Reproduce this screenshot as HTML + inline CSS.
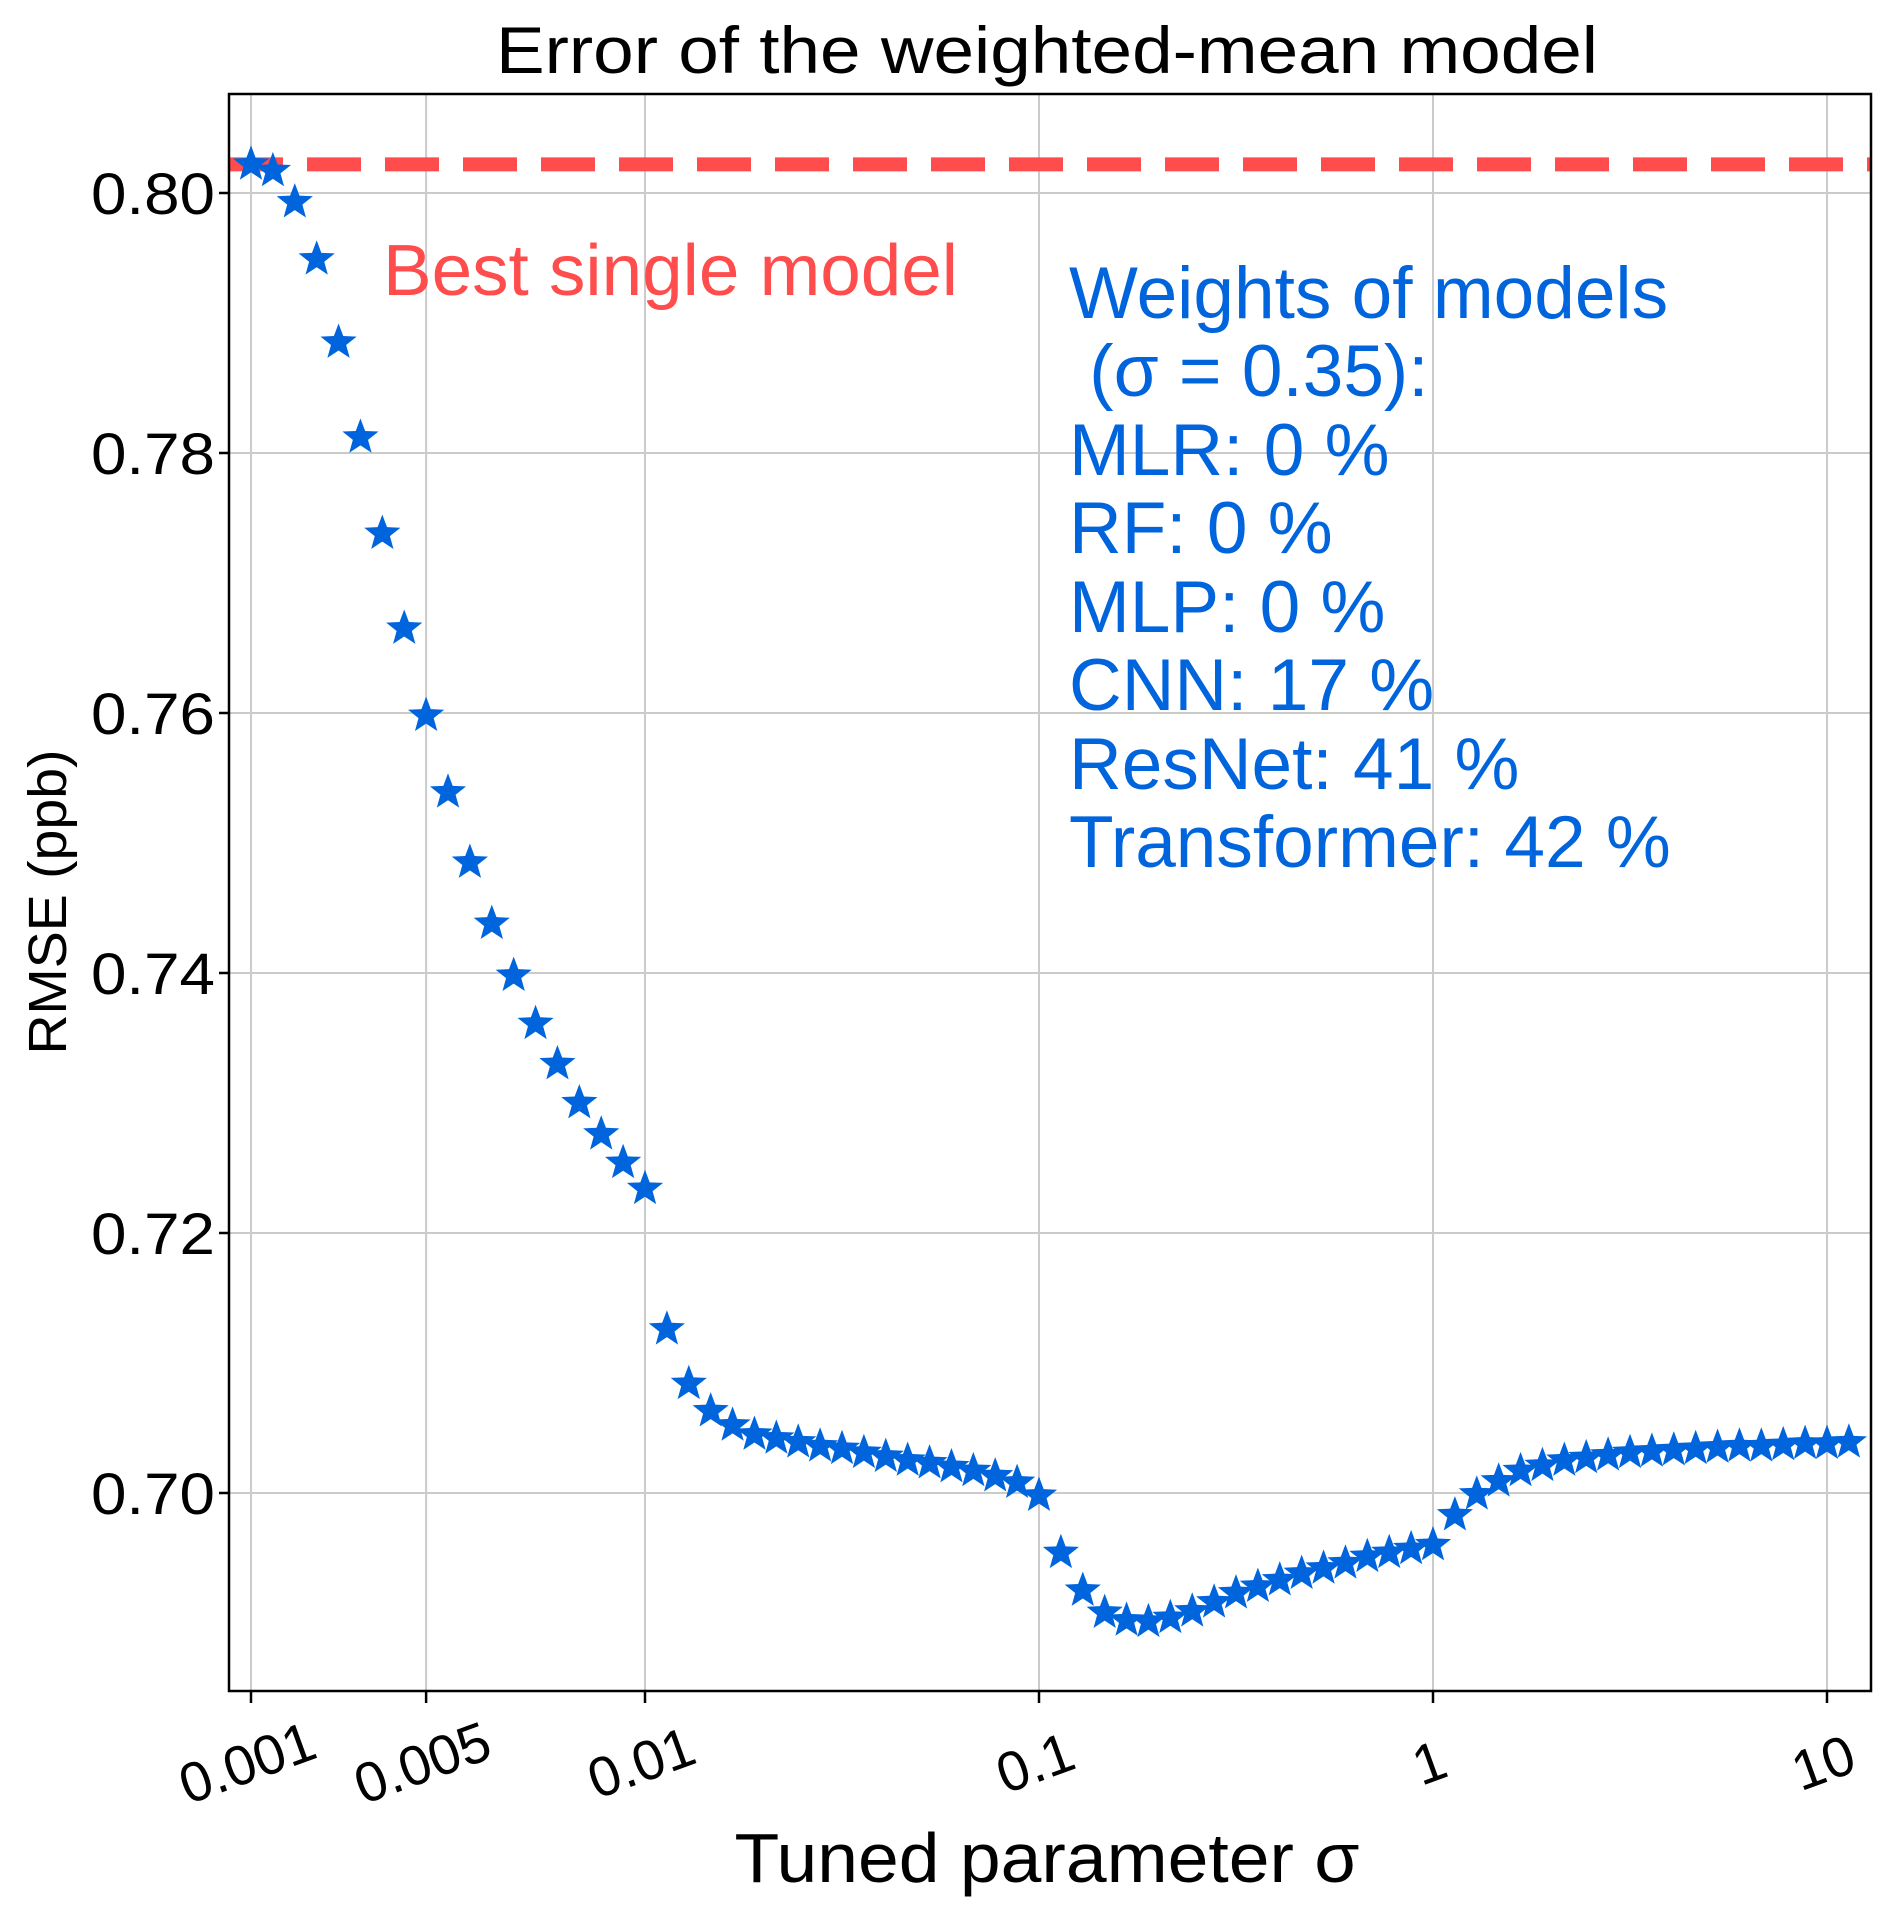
<!DOCTYPE html>
<html><head><meta charset="utf-8"><style>
html,body{margin:0;padding:0;background:#fff}
svg{display:block;font-family:"Liberation Sans","DejaVu Sans",sans-serif}
</style></head><body>
<svg id="chart" width="1892" height="1922" viewBox="0 0 1892 1922" xmlns="http://www.w3.org/2000/svg">
<rect x="0" y="0" width="1892" height="1922" fill="#fff"/>
<text x="1047" y="73" font-size="66" text-anchor="middle" textLength="1102" lengthAdjust="spacingAndGlyphs" fill="#000">Error of the weighted-mean model</text>
<g id="grid"></g>
<g id="bestline"></g>
<g id="marks"></g>
<g id="axes"></g>
<text x="383" y="295" font-size="72" textLength="575" lengthAdjust="spacingAndGlyphs" fill="#ff4c4c">Best single model</text>
<g font-size="73" fill="#0064dc">
<text x="1069" y="318">Weights of models</text>
<text x="1069" y="396" xml:space="preserve"> (σ = 0.35):</text>
<text x="1069" y="475">MLR: 0 %</text>
<text x="1069" y="553">RF: 0 %</text>
<text x="1069" y="632">MLP: 0 %</text>
<text x="1069" y="710">CNN: 17 %</text>
<text x="1069" y="789">ResNet: 41 %</text>
<text x="1069" y="867">Transformer: 42 %</text>
</g>
<text x="1047" y="1882" font-size="70" text-anchor="middle" textLength="625" lengthAdjust="spacingAndGlyphs" fill="#000">Tuned parameter σ</text>
<text x="0" y="0" font-size="54" text-anchor="middle" textLength="305" lengthAdjust="spacingAndGlyphs" fill="#000" transform="translate(66,902) rotate(-90)">RMSE (ppb)</text>
</svg>
<script>
const bestSingle = 0.8022;
const yTicks = [0.70, 0.72, 0.74, 0.76, 0.78, 0.80];
const yTickLabels = ["0.70", "0.72", "0.74", "0.76", "0.78", "0.80"];
const xTicks = [0.001, 0.005, 0.01, 0.1, 1, 10];
const xTickLabels = ["0.001", "0.005", "0.01", "0.1", "1", "10"];
const rmseSeg1 = [0.8022,0.8017,0.7993,0.7949,0.7885,0.7812,0.7738,0.7665,0.7598,0.7539,0.7485,0.7438,0.7398,0.7361,0.7330,0.7300,0.7276,0.7254,0.7234];
const rmseSeg2 = [0.7126,0.7084,0.7063,0.7052,0.7045,0.7042,0.7039,0.7036,0.7034,0.7031,0.7028,0.7025,0.7023,0.7020,0.7017,0.7013,0.7008,0.6998];
const rmseSeg3 = [0.6954,0.6925,0.6908,0.6902,0.6901,0.6904,0.6909,0.6916,0.6923,0.6928,0.6933,0.6938,0.6942,0.6946,0.6951,0.6954,0.6957,0.6960];
const rmseSeg4 = [0.6983,0.6999,0.7009,0.7017,0.7021,0.7025,0.7027,0.7029,0.7031,0.7032,0.7033,0.7034,0.7035,0.7036,0.7036,0.7037,0.7038,0.7038,0.7039];

const NS="http://www.w3.org/2000/svg";
const L=229,R=1871,T=94,B=1691;
const X0=251, DEC=394;
const Y80=193, PER=13000;
function sx(s){
  if(s<=0.01) return X0 + (s-0.001)/0.009*DEC;
  return X0 + DEC + Math.log10(s/0.01)*DEC;
}
function sy(v){ return Y80 + (0.80-v)*PER; }
function mk(tag,attrs,parent){const e=document.createElementNS(NS,tag);for(const k in attrs)e.setAttribute(k,attrs[k]);parent.appendChild(e);return e;}

const sig=[], vals=[];
rmseSeg1.forEach((v,i)=>{sig.push(0.001+0.0005*i);vals.push(v);});
rmseSeg2.forEach((v,i)=>{sig.push(0.01*Math.pow(10,(i+1)/18));vals.push(v);});
rmseSeg3.forEach((v,i)=>{sig.push(0.1*Math.pow(10,(i+1)/18));vals.push(v);});
rmseSeg4.forEach((v,i)=>{sig.push(1*Math.pow(10,(i+1)/18));vals.push(v);});

const grid=document.getElementById('grid');
xTicks.forEach((t,i)=>{
  const g=mk('line',{x1:sx(t),x2:sx(t),y1:T,y2:B,stroke:'#cbcbcb','stroke-width':2},grid);
  
  
});
yTicks.forEach((t,i)=>{
  const g=mk('line',{x1:L,x2:R,y1:sy(t),y2:sy(t),stroke:'#cbcbcb','stroke-width':2},grid);
  
  
});

const bl=mk('line',{x1:L,x2:R,y1:sy(bestSingle),y2:sy(bestSingle),stroke:'#ff4c4c','stroke-width':14,'stroke-dasharray':'54 24'},document.getElementById('bestline'));



function starPath(cx,cy,r){
  let d='';const ri=r*0.42;
  for(let k=0;k<10;k++){
    const a=-Math.PI/2+k*Math.PI/5;const rr=k%2?ri:r;
    d+=(k?'L':'M')+(cx+rr*Math.cos(a)).toFixed(2)+' '+(cy+rr*Math.sin(a)).toFixed(2);
  }
  return d+'Z';
}
const marks=document.getElementById('marks');
sig.forEach((s,i)=>{
  const p=mk('path',{d:starPath(sx(s),sy(vals[i]),19),fill:'#0064dc'},marks);
  
  
});

const axes=document.getElementById('axes');
const fr=mk('rect',{x:L,y:T,width:R-L,height:B-T,fill:'none',stroke:'#000','stroke-width':2.5},axes);


yTicks.forEach((t,i)=>{
  mk('line',{x1:L-10,x2:L,y1:sy(t),y2:sy(t),stroke:'#000','stroke-width':2.5},axes);
  const tx=mk('text',{x:L-14,y:sy(t)+21,'font-size':58,'text-anchor':'end',textLength:124,lengthAdjust:'spacingAndGlyphs',fill:'#000'},axes);
  tx.textContent=yTickLabels[i];
  
  
});
xTicks.forEach((t,i)=>{
  mk('line',{x1:sx(t),x2:sx(t),y1:B,y2:B+12,stroke:'#000','stroke-width':2.5},axes);
  const x=sx(t)-4, y=1762;
  const tx=mk('text',{x:x,y:y+20,'font-size':56,'text-anchor':'middle',fill:'#000',transform:`rotate(-20 ${x} ${y})`},axes);
  tx.textContent=xTickLabels[i];
  
  
});
</script>
</body></html>
